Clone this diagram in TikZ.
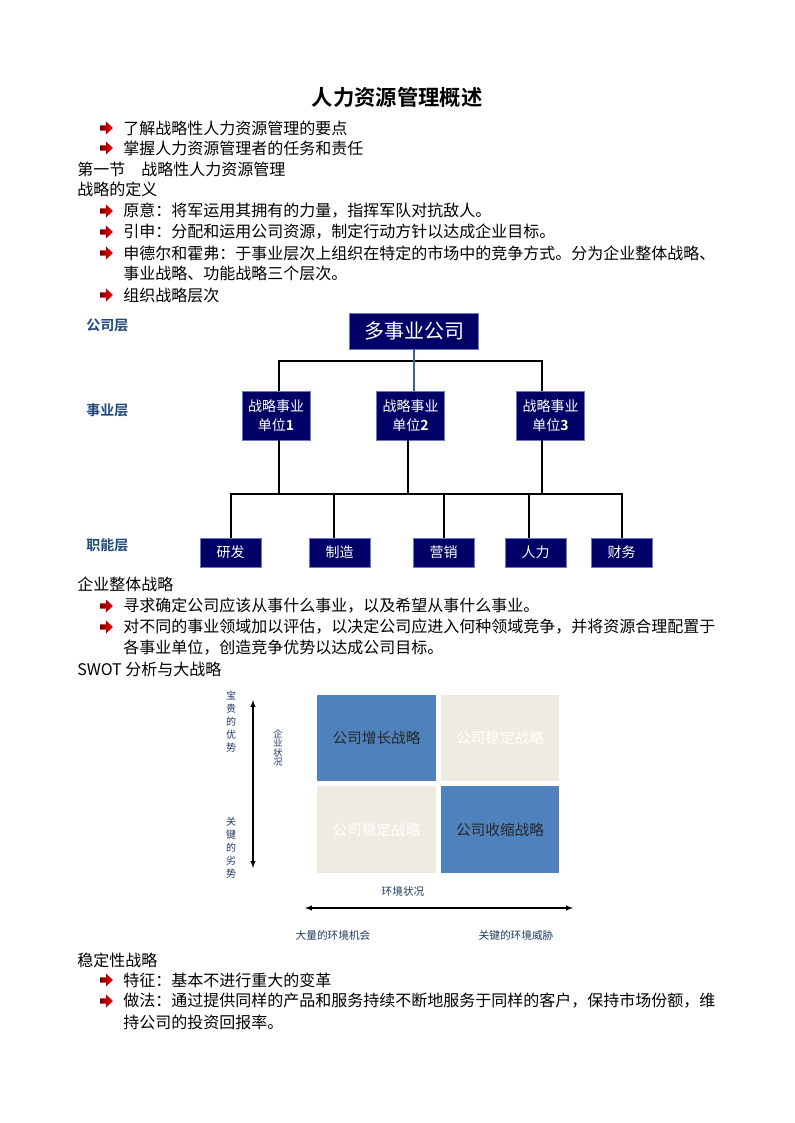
\documentclass[tikz,border=0pt]{standalone}
\usepackage{fontspec}
\setmainfont{Noto Sans CJK SC}[BoldFont={Noto Sans CJK SC Bold}]
\usepackage{tikz}
\usetikzlibrary{arrows,positioning}

\definecolor{navy}{RGB}{0,0,102}
\definecolor{navyedge}{RGB}{110,120,190}
\definecolor{lvlblue}{RGB}{31,73,125}
\definecolor{linkblue}{RGB}{51,102,153}
\definecolor{swotblue}{RGB}{79,129,189}
\definecolor{swotbeige}{RGB}{238,236,225}
\definecolor{axisblue}{RGB}{31,56,100}

\tikzset{
    txt/.style={anchor=west, inner sep=0pt, font=\fontsize{12}{14}\selectfont},
    lvl/.style={anchor=west, inner sep=0pt, text=lvlblue, font=\bfseries\fontsize{10.5}{12}\selectfont},
    navybox/.style={draw=navyedge, line width=0.4pt, fill=navy, text=white, inner sep=0pt, align=center},
    unitbox/.style={navybox, minimum width=51pt, minimum height=36.75pt, font=\fontsize{10.5}{14.25}\selectfont},
    funcbox/.style={navybox, minimum width=45.75pt, minimum height=21.75pt, font=\fontsize{10.5}{12}\selectfont},
    orgline/.style={line width=1.5pt},
    blueline/.style={line width=1.1pt, color=linkblue},
    quad/.style={inner sep=0pt, minimum width=88.875pt, minimum height=64.875pt, font=\fontsize{11}{13}\selectfont},
    axislbl/.style={inner sep=0pt, text=axisblue, align=center},
    barrow/.pic={\shade[left color=red!45!black, right color=red] (0,-2.6) -- (6,-2.6) -- (6,-6.5) -- (13,0) -- (6,6.5) -- (6,2.6) -- (0,2.6) -- cycle;}
}

\begin{document}
\begin{tikzpicture}[x=0.75pt, y=-0.75pt]
    \useasboundingbox (0,0) rectangle (794,1123);

    \node[font=\bfseries\fontsize{16}{18}\selectfont, inner sep=0pt] (title) at (397,97) {人力资源管理概述};

    \foreach \n/\yy/\t in {ba/128/了解战略性人力资源管理的要点, bb/148/掌握人力资源管理者的任务和责任,
        bc/211/原意：将军运用其拥有的力量，指挥军队对抗敌人。, bd/232/引申：分配和运用公司资源，制定行动方针以达成企业目标。,
        be/253/申德尔和霍弗：于事业层次上组织在特定的市场中的竞争方式。分为企业整体战略、, bf/295/组织战略层次,
        bg/606/寻求确定公司应该从事什么事业，以及希望从事什么事业。, bh/627/对不同的事业领域加以评估，以决定公司应进入何种领域竞争，并将资源合理配置于,
        bi/980/特征：基本不进行重大的变革, bj/1001/做法：通过提供同样的产品和服务持续不断地服务于同样的客户，保持市场份额，维}
    {
        \pic at (100,\yy) {barrow};
        \node[txt] (\n) at (123,\yy) {\t};
    }
    \foreach \n/\yy/\t in {ca/273/事业战略、功能战略三个层次。, cb/648/各事业单位，创造竞争优势以达成公司目标。, cc/1022/持公司的投资回报率。}
    \node[txt] (\n) at (123,\yy) {\t};
    \foreach \n/\yy/\t in {ha/169/第一节\quad 战略性人力资源管理, hb/189/战略的定义, hc/584/企业整体战略, hd/669/SWOT 分析与大战略, he/960/稳定性战略}
    \node[txt] (\n) at (77,\yy) {\t};

    \node[lvl] (lv1) at (86,325) {公司层};
    \node[lvl] (lv2) at (86,410) {事业层};
    \node[lvl] (lv3) at (86,545) {职能层};

    \node[navybox, minimum width=96.75pt, minimum height=27pt, font=\fontsize{15}{17}\selectfont] (gs) at (414,331) {多事业公司};
    \node[unitbox] (dw1) at (276,415.5) {战略事业\\单位\textbf{1}};
    \node[unitbox] (dw2) at (410.5,415.5) {战略事业\\单位\textbf{2}};
    \node[unitbox] (dw3) at (550.5,415.5) {战略事业\\单位\textbf{3}};

    \node[funcbox] (yf) at (230.5,552.5) {研发};
    \node[funcbox] (zz) at (339.5,552.5) {制造};
    \node[funcbox] (yx) at (443.5,552.5) {营销};
    \node[funcbox] (rl) at (535.5,552.5) {人力};
    \node[funcbox] (cw) at (621.5,552.5) {财务};

    \draw[orgline] ([xshift=2.25pt]dw1.north) |- ([yshift=-9pt]gs.south) -| ([xshift=-6.375pt]dw3.north);
    \draw[blueline] (gs.south) -- (gs.south |- dw2.north);

    \coordinate (bus) at (0,494);
    \draw[orgline] (yf.north) |- (cw.north |- bus) -- (cw.north);
    \foreach \n/\s in {dw1/2.25pt, dw2/-1.875pt, dw3/-6.375pt}
    \draw[orgline] ([xshift=\s]\n.south) -- ([xshift=\s]\n.south |- bus);
    \foreach \n/\s in {zz/-4.125pt, yx/0pt, rl/-4.875pt}
    \draw[orgline] ([xshift=\s]\n.north) -- ([xshift=\s]\n.north |- bus);

    \node[quad, fill=swotblue, text=black!85] (q1) at (376.5,738) {公司增长战略};
    \node[quad, fill=swotbeige, text=white] (q2) at (500,738) {公司稳定战略};
    \node[quad, fill=swotbeige, text=white] (q3) at (376.5,829.5) {公司稳定战略};
    \node[quad, fill=swotblue, text=black!85] (q4) at (500,829.5) {公司收缩战略};

    \coordinate (va1) at (253,700);
    \coordinate (va2) at (253,868);
    \draw[latex-latex, line width=0.8pt] (va1) -- (va2);
    \coordinate (ha1) at (305,908);
    \coordinate (ha2) at (573,908);
    \draw[latex-latex, line width=0.8pt] (ha1) -- (ha2);

    \node[axislbl, font=\fontsize{7.5}{9.75}\selectfont] (yw) at (231,722) {宝\\贵\\的\\优\\势};
    \node[axislbl, font=\fontsize{7.5}{9.75}\selectfont] (lw) at (231,848) {关\\键\\的\\劣\\势};
    \node[axislbl, font=\fontsize{7}{7.1}\selectfont] (qy) at (278,748) {企\\业\\状\\况};
    \node[axislbl, font=\fontsize{8}{10}\selectfont] (hj) at (403,891) {环境状况};
    \node[axislbl, font=\fontsize{8}{10}\selectfont] (jh) at (333,935) {大量的环境机会};
    \node[axislbl, font=\fontsize{8}{10}\selectfont] (wx) at (516,935) {关键的环境威胁};
\end{tikzpicture}
\end{document}
